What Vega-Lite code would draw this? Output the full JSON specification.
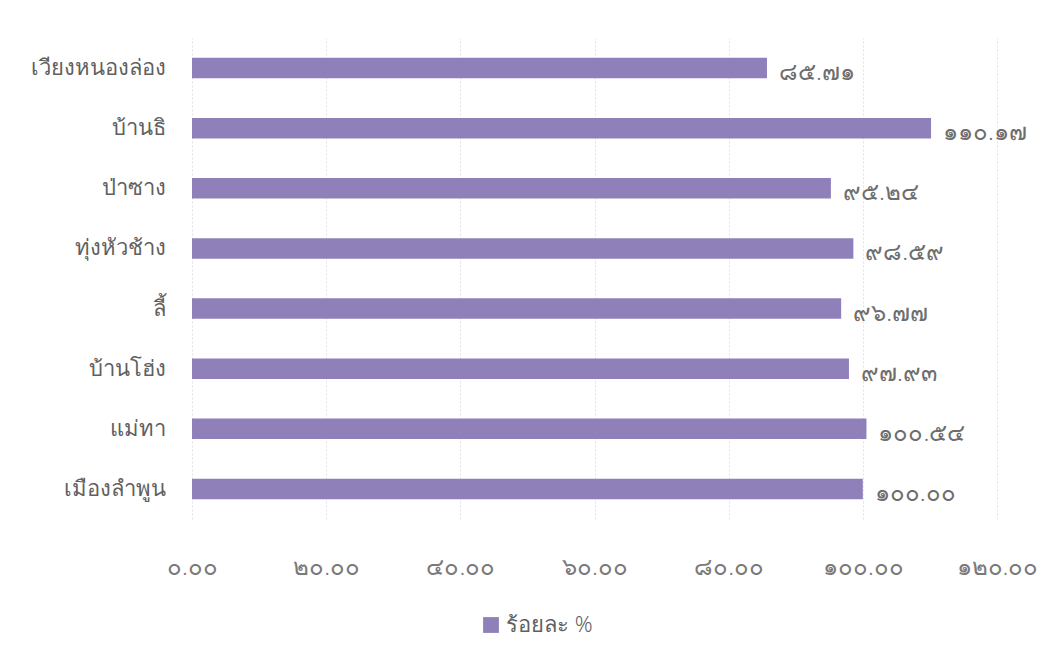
{
  "$schema": "https://vega.github.io/schema/vega-lite/v6.json",
  "autosize": "none",
  "width": 805,
  "height": 481,
  "padding": {"left": 192, "top": 38, "right": 60, "bottom": 144},
  "background": "white",
  "config": {
    "view": {"stroke": null},
    "font": "Noto Sans",
    "axis": {"labelColor": "#5a5a5a", "domain": false, "ticks": false}
  },
  "data": {
    "values": [
      {"อำเภอ": "เวียงหนองล่อง", "ร้อยละ": 85.71, "ป้าย": "๘๕.๗๑"},
      {"อำเภอ": "บ้านธิ", "ร้อยละ": 110.17, "ป้าย": "๑๑๐.๑๗"},
      {"อำเภอ": "ป่าซาง", "ร้อยละ": 95.24, "ป้าย": "๙๕.๒๔"},
      {"อำเภอ": "ทุ่งหัวช้าง", "ร้อยละ": 98.59, "ป้าย": "๙๘.๕๙"},
      {"อำเภอ": "ลี้", "ร้อยละ": 96.77, "ป้าย": "๙๖.๗๗"},
      {"อำเภอ": "บ้านโฮ่ง", "ร้อยละ": 97.93, "ป้าย": "๙๗.๙๓"},
      {"อำเภอ": "แม่ทา", "ร้อยละ": 100.54, "ป้าย": "๑๐๐.๕๔"},
      {"อำเภอ": "เมืองลำพูน", "ร้อยละ": 100.0, "ป้าย": "๑๐๐.๐๐"}
    ]
  },
  "encoding": {
    "y": {
      "field": "อำเภอ",
      "type": "nominal",
      "sort": null,
      "scale": {"paddingInner": 0.66, "paddingOuter": 0.33},
      "axis": {"title": null, "labelFontSize": 22, "labelFontWeight": 300, "labelColor": "#606060", "labelPadding": 27, "grid": false}
    },
    "x": {
      "field": "ร้อยละ",
      "type": "quantitative",
      "scale": {"domain": [0, 120], "nice": false},
      "axis": {
        "title": null,
        "values": [0, 20, 40, 60, 80, 100, 120],
        "labelFontSize": 24,
        "labelFontWeight": 300,
        "labelColor": "#7a7a7a",
        "labelPadding": 36,
        "labelFlush": false,
        "grid": true,
        "gridColor": "#e2e2e2",
        "gridDash": [2, 2],
        "labelExpr": "replace(replace(replace(replace(replace(replace(replace(replace(replace(replace(format(datum.value, '.2f'), /0/g, '๐'), /1/g, '๑'), /2/g, '๒'), /3/g, '๓'), /4/g, '๔'), /5/g, '๕'), /6/g, '๖'), /7/g, '๗'), /8/g, '๘'), /9/g, '๙')"
      }
    }
  },
  "layer": [
    {
      "mark": {"type": "bar", "color": "#8f80ba"},
      "encoding": {
        "color": {
          "datum": "ร้อยละ %",
          "type": "nominal",
          "scale": {"range": ["#8f80ba"]},
          "legend": {
            "title": null,
            "orient": "none",
            "legendX": 288,
            "legendY": 576,
            "symbolType": "square",
            "symbolSize": 250,
            "labelFontSize": 22,
            "labelFontWeight": 300,
            "labelColor": "#606060"
          }
        }
      }
    },
    {
      "mark": {"type": "text", "align": "left", "baseline": "middle", "dx": 12, "dy": 5, "fontSize": 24, "fontWeight": 300, "color": "#6e6e6e"},
      "encoding": {"text": {"field": "ป้าย"}}
    }
  ]
}
